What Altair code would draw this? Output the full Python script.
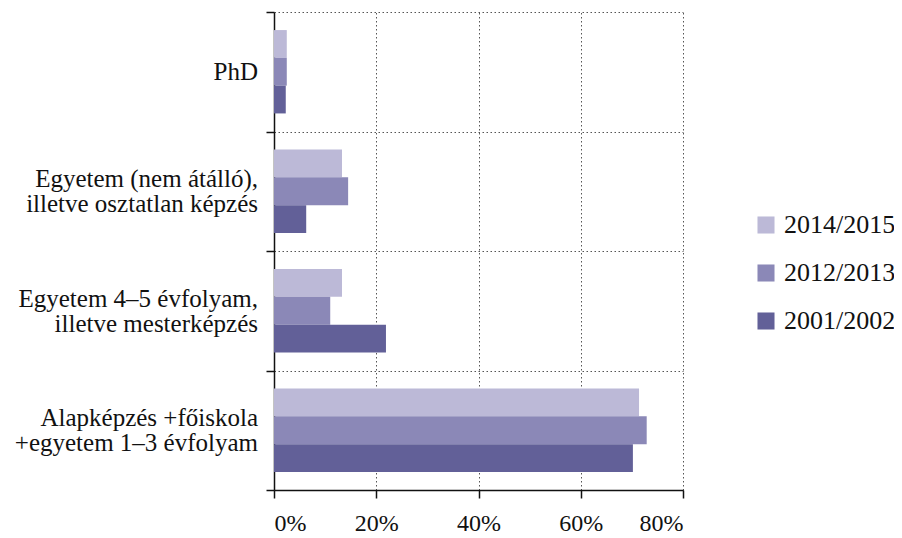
import altair as alt
import pandas as pd

categories = [
    "PhD",
    "Egyetem (nem átálló),|illetve osztatlan képzés",
    "Egyetem 4–5 évfolyam,|illetve mesterképzés",
    "Alapképzés +főiskola|+egyetem 1–3 évfolyam",
]
series = ["2014/2015", "2012/2013", "2001/2002"]
colors = ["#bcb9d7", "#8b88b7", "#626098"]

v_2014 = [2.5, 13.3, 13.3, 71.4]
v_2012 = [2.5, 14.5, 11.0, 72.9]
v_2001 = [2.3, 6.3, 21.9, 70.2]

rows = []
for s, vals in zip(series, [v_2014, v_2012, v_2001]):
    for c, v in zip(categories, vals):
        rows.append({"category": c, "series": s, "value": v})
df = pd.DataFrame(rows)

lab_df = pd.DataFrame(
    {"category": categories, "lines": [c.count("|") + 1 for c in categories]}
)

FONT = "Liberation Serif"

y_enc = alt.Y(
    "category:N",
    sort=categories,
    scale=alt.Scale(paddingInner=0, paddingOuter=0),
    axis=alt.Axis(
        title=None,
        labels=False,
        tickBand="extent",
        tickSize=8,
        tickColor="#111",
        tickWidth=1.5,
        domainColor="#111",
        domainWidth=1.5,
        grid=True,
        gridColor="#555",
        gridDash=[1.5, 2.5],
        gridWidth=1,
    ),
)

bars = (
    alt.Chart(df)
    .mark_bar()
    .encode(
        x=alt.X(
            "value:Q",
            scale=alt.Scale(domain=[0, 80], nice=False),
            axis=alt.Axis(
                values=[0, 20, 40, 60, 80],
                labelExpr="datum.value + '%'",
                title=None,
                tickSize=8,
                tickColor="#111",
                tickWidth=1.5,
                domainColor="#111",
                domainWidth=1.5,
                grid=True,
                gridColor="#555",
                gridDash=[1.5, 2.5],
                gridWidth=1,
                labelFont=FONT,
                labelFontSize=24,
                labelColor="#111",
                labelPadding=13,
            ),
        ),
        y=y_enc,
        yOffset=alt.YOffset(
            "series:N", sort=series, scale=alt.Scale(paddingInner=0, paddingOuter=0.65)
        ),
        color=alt.Color(
            "series:N",
            sort=series,
            scale=alt.Scale(domain=series, range=colors),
            legend=alt.Legend(
                title=None,
                orient="none",
                legendX=479,
                legendY=200,
                symbolType="square",
                symbolSize=290,
                symbolStrokeWidth=0,
                labelFont=FONT,
                labelFontSize=26,
                labelColor="#111",
                rowPadding=22,
                labelOffset=5,
            ),
        ),
    )
)

label_base = alt.Chart(lab_df).encode(
    y=alt.Y("category:N", sort=categories),
    x=alt.value(-16),
    text="category:N",
)

single = label_base.transform_filter("datum.lines == 1").mark_text(
    align="right", baseline="middle", font=FONT, fontSize=25, color="#111"
)
double = label_base.transform_filter("datum.lines == 2").mark_text(
    align="right",
    baseline="middle",
    font=FONT,
    fontSize=25,
    lineHeight=25,
    lineBreak="|",
    dy=-12,
    color="#111",
)

chart = (
    alt.layer(bars, single, double)
    .properties(
        width=409,
        height=478,
        autosize=alt.AutoSizeParams(type="none"),
        padding={"top": 4, "left": 266, "right": 211, "bottom": 46},
    )
    .configure_view(stroke=None)
)

chart.save("out.html", embed_options={"renderer": "svg", "actions": False})
